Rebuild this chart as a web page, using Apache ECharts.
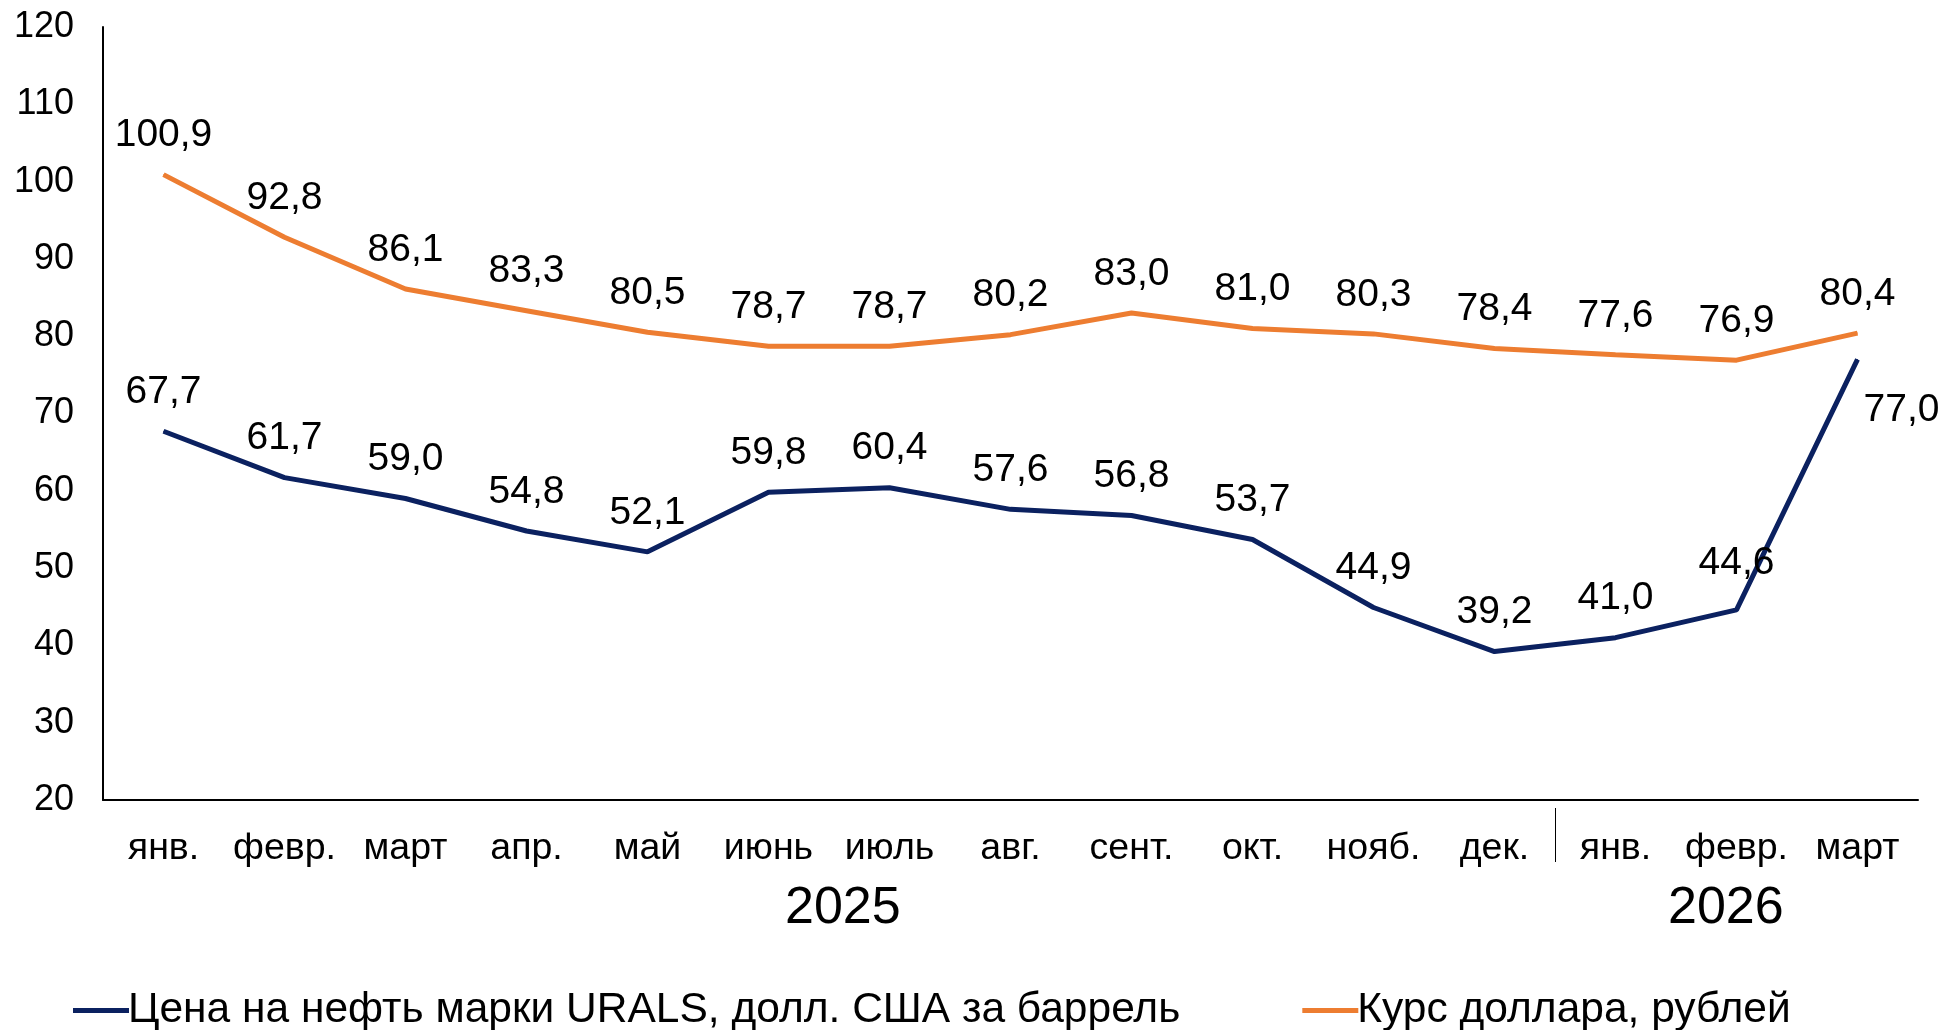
<!DOCTYPE html>
<html><head><meta charset="utf-8">
<script src="https://cdn.jsdelivr.net/npm/echarts@6/dist/echarts.min.js"></script>
<style>html,body{margin:0;padding:0;background:#fff}#c{width:1944px;height:1030px}</style>
</head><body><div id="c"></div>
<script>
const months = ['янв.','февр.','март','апр.','май','июнь','июль','авг.','сент.','окт.','нояб.','дек.','янв.','февр.','март'];
const years = ['2025','2026'];
const urals = [67.7,61.7,59.0,54.8,52.1,59.8,60.4,57.6,56.8,53.7,44.9,39.2,41.0,44.6,77.0];
const usd = [100.9,92.8,86.1,83.3,80.5,78.7,78.7,80.2,83.0,81.0,80.3,78.4,77.6,76.9,80.4];
const seriesNames = ['Цена на нефть марки URALS, долл. США за баррель','Курс доллара, рублей'];
const yearBoundary = 12; // separator between дек. and янв.
const FONT = '"Liberation Sans", Arial, sans-serif';
const fmt = v => v.toFixed(1).replace('.', ',');

const chart = echarts.init(document.getElementById('c'));
const uralsData = urals.map((v, i) => {
  if (i === urals.length - 1) return {value: v, label: {position: 'bottom', offset: [44, 12]}};
  if (i === 13) return {value: v, label: {offset: [0, -8]}};
  return v;
});
chart.setOption({
  animation: false,
  textStyle: {fontFamily: FONT},
  grid: {left: 103, right: 26, top: 27, bottom: 230},
  legend: {
    left: 68, top: 984, itemGap: 122, itemWidth: 56, itemHeight: 5, icon: 'rect',
    textStyle: {fontSize: 42.5, color: '#000', fontFamily: FONT, padding: [0,0,0,-6]},
    data: seriesNames
  },
  xAxis: [{
    type: 'category', data: months, boundaryGap: true,
    axisLine: {lineStyle: {color: '#000', width: 2}},
    axisTick: {show: false},
    axisLabel: {fontSize: 37.5, color: '#000', margin: 30, interval: 0}
  }, {
    type: 'value', min: 0, max: months.length, position: 'bottom', offset: 8,
    axisLine: {show: false}, splitLine: {show: false},
    axisLabel: {show: false},
    axisTick: {show: true, length: 54, customValues: [yearBoundary], lineStyle: {color: '#000', width: 1}}
  }],
  yAxis: {
    type: 'value', min: 20, max: 120, interval: 10,
    axisLine: {show: true, lineStyle: {color: '#000', width: 2}},
    axisTick: {show: false}, splitLine: {show: false},
    axisLabel: {fontSize: 36, color: '#000', margin: 29}
  },
  series: [
    {name: seriesNames[0], type: 'line', data: uralsData, symbol: 'circle', symbolSize: 1,
      lineStyle: {color: '#0B2160', width: 5}, itemStyle: {color: '#0B2160'},
      label: {show: true, position: 'top', distance: 19, fontSize: 39, color: '#000', formatter: p => fmt(p.value)}},
    {name: seriesNames[1], type: 'line', data: usd, symbol: 'circle', symbolSize: 1,
      lineStyle: {color: '#ED7D31', width: 5}, itemStyle: {color: '#ED7D31'},
      label: {show: true, position: 'top', distance: 19, fontSize: 39, color: '#000', formatter: p => fmt(p.value)}}
  ],
  graphic: [
    {type: 'text', left: 843 - 58, top: 883, style: {text: years[0], fontSize: 52, fill: '#000', fontFamily: FONT}},
    {type: 'text', left: 1726 - 58, top: 883, style: {text: years[1], fontSize: 52, fill: '#000', fontFamily: FONT}}
  ]
});
</script></body></html>
